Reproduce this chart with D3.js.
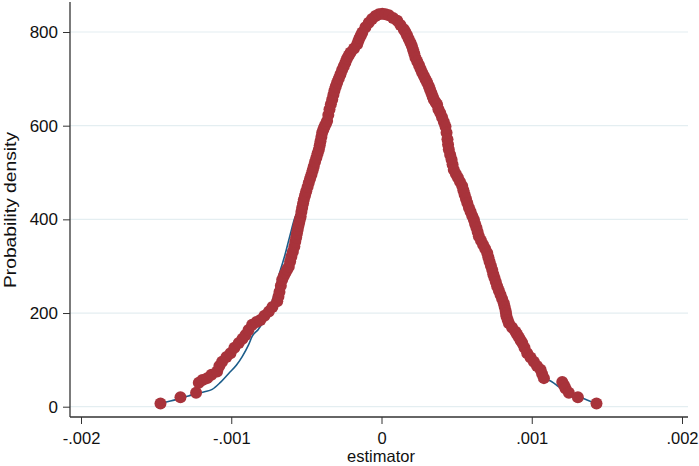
<!DOCTYPE html>
<html>
<head>
<meta charset="utf-8">
<script src="https://cdn.jsdelivr.net/npm/d3@7"></script>
<style>
  html, body { margin: 0; padding: 0; background: #fff; }
  svg text { font-family: "Liberation Sans", Arial, sans-serif; fill: #111; }
</style>
</head>
<body>
<svg id="chart" width="699" height="466"></svg>
<script>
// Data
const xTicks = [-0.002, -0.001, 0, 0.001, 0.002];
const xTickLabels = ["-.002", "-.001", "0", ".001", ".002"];
const yTicks = [0, 200, 400, 600, 800];
const yTickLabels = ["0", "200", "400", "600", "800"];

// kernel density dots: [estimator, density]
const kdPoints = [
  [-0.001471, 7], [-0.001338, 20], [-0.001234, 30], [-0.001216, 51], [-0.001192, 57],
  [-0.001160, 61], [-0.001132, 68], [-0.001094, 75], [-0.001079, 87], [-0.001061, 96],
  [-0.001032, 106], [-0.001005, 114], [-0.000979, 126], [-0.000950, 136], [-0.000925, 145],
  [-0.000905, 153], [-0.000885, 164], [-0.000861, 175], [-0.000832, 181], [-0.000806, 185],
  [-0.000779, 194], [-0.000750, 203], [-0.000726, 213], [-0.000694, 225], [-0.000686, 235],
  [-0.000679, 245], [-0.000670, 258], [-0.000661, 271], [-0.000650, 279], [-0.000639, 286],
  [-0.000628, 293], [-0.000617, 299], [-0.000608, 310], [-0.000600, 320], [-0.000590, 331],
  [-0.000580, 342], [-0.000574, 352], [-0.000568, 361], [-0.000563, 370], [-0.000558, 378],
  [-0.000553, 386], [-0.000548, 393], [-0.000543, 400], [-0.000538, 406], [-0.000533, 416],
  [-0.000528, 425], [-0.000522, 434], [-0.000517, 442], [-0.000509, 451], [-0.000501, 460],
  [-0.000492, 469], [-0.000484, 478], [-0.000475, 487], [-0.000466, 496], [-0.000458, 505],
  [-0.000451, 513], [-0.000442, 523], [-0.000433, 532], [-0.000425, 541], [-0.000417, 549],
  [-0.000411, 558], [-0.000406, 567], [-0.000400, 576], [-0.000395, 585], [-0.000387, 592],
  [-0.000379, 598], [-0.000370, 604], [-0.000362, 610], [-0.000354, 623], [-0.000346, 635],
  [-0.000337, 646], [-0.000328, 656], [-0.000320, 666], [-0.000313, 675], [-0.000304, 684],
  [-0.000295, 692], [-0.000284, 701], [-0.000273, 710], [-0.000262, 719], [-0.000251, 727],
  [-0.000240, 735], [-0.000230, 743], [-0.000218, 750], [-0.000206, 756], [-0.000183, 765],
  [-0.000162, 774], [-0.000154, 781], [-0.000146, 787], [-0.000137, 793], [-0.000128, 799],
  [-0.000107, 810], [-0.000085, 820], [-0.000063, 828], [-0.000040, 834], [-0.000018, 838],
  [0.000005, 839], [0.000027, 838], [0.000049, 836], [0.000077, 830], [0.000105, 824],
  [0.000126, 815], [0.000148, 806], [0.000159, 800], [0.000170, 793], [0.000181, 785],
  [0.000193, 777], [0.000202, 770], [0.000210, 762], [0.000218, 754], [0.000226, 745],
  [0.000238, 737], [0.000250, 729], [0.000260, 721], [0.000271, 713], [0.000282, 706],
  [0.000293, 699], [0.000304, 692], [0.000315, 684], [0.000323, 677], [0.000332, 670],
  [0.000340, 663], [0.000348, 656], [0.000360, 650], [0.000370, 645], [0.000379, 635],
  [0.000391, 627], [0.000403, 618], [0.000415, 608], [0.000426, 598], [0.000433, 585],
  [0.000439, 571], [0.000443, 560], [0.000448, 549], [0.000457, 538], [0.000466, 528],
  [0.000473, 517], [0.000481, 506], [0.000495, 497], [0.000509, 489], [0.000523, 480],
  [0.000537, 471], [0.000545, 462], [0.000553, 453], [0.000562, 444], [0.000571, 435],
  [0.000582, 425], [0.000593, 416], [0.000604, 407], [0.000615, 399], [0.000623, 390],
  [0.000632, 382], [0.000640, 373], [0.000648, 364], [0.000662, 355], [0.000676, 346],
  [0.000690, 337], [0.000704, 328], [0.000711, 319], [0.000719, 310], [0.000728, 301],
  [0.000737, 292], [0.000744, 283], [0.000752, 275], [0.000761, 266], [0.000770, 257],
  [0.000781, 248], [0.000792, 239], [0.000803, 230], [0.000814, 221], [0.000820, 213],
  [0.000826, 205], [0.000829, 199], [0.000832, 193], [0.000840, 185], [0.000848, 178],
  [0.000869, 169], [0.000892, 160], [0.000903, 154], [0.000915, 148], [0.000926, 142],
  [0.000937, 136], [0.000952, 126], [0.000970, 114], [0.000992, 105], [0.001014, 96],
  [0.001035, 87], [0.001059, 79], [0.001069, 70], [0.001081, 61], [0.001203, 53],
  [0.001215, 46], [0.001225, 39], [0.001247, 30], [0.001307, 20], [0.001431, 7]
];

// normal density line: [estimator, density]
const normalPoints = [
  [-0.001471, 7], [-0.001405, 12], [-0.001338, 18], [-0.001285, 23], [-0.001232, 28],
  [-0.001178, 32], [-0.001127, 37], [-0.001072, 52], [-0.001017, 71], [-0.000965, 89],
  [-0.000927, 107], [-0.000885, 132], [-0.000861, 150], [-0.000820, 165], [-0.000784, 182],
  [-0.000739, 215], [-0.000713, 240], [-0.000679, 285], [-0.000646, 320], [-0.000612, 362],
  [-0.000580, 400], [-0.000519, 442], [-0.000486, 479], [-0.000453, 513], [-0.000419, 549],
  [-0.000393, 585], [-0.000360, 613], [-0.000326, 656], [-0.000293, 692], [-0.000253, 727],
  [-0.000206, 757], [-0.000160, 776], [-0.000126, 799], [-0.000087, 821], [-0.000040, 834],
  [0, 839], [0.000047, 836], [0.000107, 823], [0.000146, 806], [0.000193, 778],
  [0.000226, 746], [0.000273, 714], [0.000313, 684], [0.000346, 656], [0.000379, 635],
  [0.000426, 598], [0.000446, 549], [0.000479, 506], [0.000539, 470], [0.000573, 435],
  [0.000613, 399], [0.000646, 363], [0.000706, 328], [0.000739, 292], [0.000772, 256],
  [0.000812, 222], [0.000846, 179], [0.000892, 160], [0.000939, 136], [0.000972, 115],
  [0.001012, 96], [0.001059, 79], [0.001079, 61], [0.001112, 57], [0.001145, 51],
  [0.001178, 43], [0.001225, 36], [0.001272, 27], [0.001325, 20], [0.001372, 14],
  [0.001431, 7]
];

const svg = d3.select("#chart");
const x = d3.scaleLinear().domain([-0.002, 0.002]).range([81, 682]);
const y = d3.scaleLinear().domain([0, 800]).range([406.7, 32]);
const plotLeft = 70, plotRight = 688, plotTop = 2, plotBottom = 417;

// gridlines
svg.append("g").selectAll("line").data(yTicks).enter().append("line")
  .attr("x1", plotLeft).attr("x2", plotRight)
  .attr("y1", d => y(d)).attr("y2", d => y(d))
  .attr("stroke", "#e4eef1").attr("stroke-width", 1.2);

// axes
const xAxis = d3.axisBottom(x).tickValues(xTicks).tickSize(7).tickSizeOuter(0)
  .tickFormat((d, i) => xTickLabels[i]);
const gx = svg.append("g").attr("transform", `translate(0,${plotBottom})`).call(xAxis);
gx.select(".domain").remove();
gx.selectAll(".tick line").attr("stroke", "#333");
gx.selectAll(".tick text").attr("dy", null).attr("y", 27).style("font-size", "16.5px");

const yAxis = d3.axisLeft(y).tickValues(yTicks).tickSize(7).tickSizeOuter(0)
  .tickFormat((d, i) => yTickLabels[i]);
const gy = svg.append("g").attr("transform", `translate(${plotLeft},0)`).call(yAxis);
gy.select(".domain").remove();
gy.selectAll(".tick line").attr("stroke", "#333");
gy.selectAll(".tick text").attr("x", -12).style("font-size", "17px");

svg.append("line").attr("x1", plotLeft).attr("x2", plotRight)
  .attr("y1", plotBottom).attr("y2", plotBottom).attr("stroke", "#333").attr("stroke-width", 1.3);
svg.append("line").attr("x1", plotLeft).attr("x2", plotLeft)
  .attr("y1", plotTop).attr("y2", plotBottom).attr("stroke", "#333").attr("stroke-width", 1.3);

// axis titles
svg.append("text").attr("x", 381).attr("y", 462).attr("text-anchor", "middle")
  .style("font-size", "16.5px").text("estimator");
svg.append("text").attr("transform", "translate(16,210) rotate(-90)")
  .attr("text-anchor", "middle").style("font-size", "16px")
  .attr("textLength", 156).attr("lengthAdjust", "spacingAndGlyphs")
  .text("Probability density");

// normal density line
const line = d3.line().x(d => x(d[0])).y(d => y(d[1])).curve(d3.curveMonotoneX);
svg.append("path").datum(normalPoints)
  .attr("d", line).attr("fill", "none").attr("stroke", "#1c5d8a").attr("stroke-width", 1.6);

// kernel density dots
svg.append("g").selectAll("circle").data(kdPoints).enter().append("circle")
  .attr("cx", d => x(d[0])).attr("cy", d => y(d[1])).attr("r", 6)
  .attr("fill", "#a8333b");
</script>
</body>
</html>
